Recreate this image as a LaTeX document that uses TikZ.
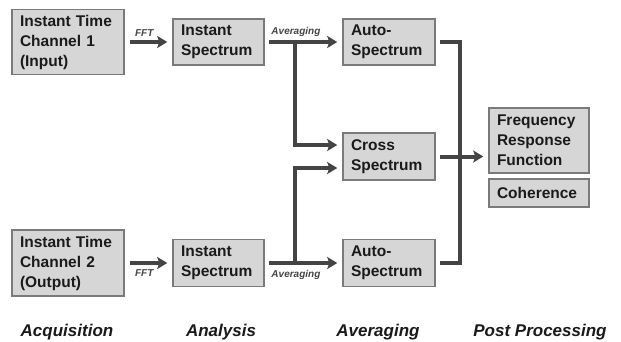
\documentclass[tikz,border=0pt]{standalone}
\usepackage{fontspec}
\setmainfont{Liberation Sans}
\usetikzlibrary{arrows.meta}
\definecolor{boxfill}{HTML}{D6D6D6}
\definecolor{boxline}{HTML}{7A7A7A}
\definecolor{wire}{HTML}{444444}
\definecolor{ink}{HTML}{1A1A1A}
\begin{document}
\begin{tikzpicture}
  [x=1pt,y=-1pt,
   blk/.style={draw=boxline,fill=boxfill,line width=1.5pt,align=left,inner sep=0pt,
     inner xsep=8pt,text=ink,font=\fontsize{15.5}{20}\selectfont\bfseries},
   wireln/.style={draw=wire,line width=4pt},
   arr/.style={wireln,-{Stealth[length=10pt,width=12pt,inset=2pt]},shorten >=5pt},
   tag/.style={text=wire,font=\fontsize{10}{12}\selectfont\bfseries\itshape,inner sep=1pt},
   stage/.style={text=ink,font=\fontsize{17}{20}\selectfont\bfseries\itshape}]
  \useasboundingbox (0,0) rectangle (621,341);
  \node[blk,text width=96pt,minimum height=65pt] (ch1) at (68,42) {Instant Time\\Channel 1\\(Input)};
  \node[blk,text width=96pt,minimum height=66pt] (ch2) at (68,263) {Instant Time\\Channel 2\\(Output)};
  \node[blk,text width=75pt,minimum height=46pt] (is1) at (218.5,42) {Instant\\Spectrum};
  \node[blk,text width=75pt,minimum height=47pt] (is2) at (218.5,263) {Instant\\Spectrum};
  \node[blk,text width=76pt,minimum height=46pt] (as1) at (389,42) {Auto-\\Spectrum};
  \node[blk,text width=76pt,minimum height=47pt] (cs) at (389,156.5) {Cross\\Spectrum};
  \node[blk,text width=76pt,minimum height=47pt] (as2) at (389,263) {Auto-\\Spectrum};
  \node[blk,text width=84pt,minimum height=65pt] (frf) at (539,140.5) {Frequency\\Response\\Function};
  \node[blk,text width=84pt,minimum height=28pt] (coh) at (539,193) {Coherence};
  \coordinate (bus) at (460,156.5);

  \node[stage] (acq) at (67,332) {Acquisition};
  \node[stage] (ana) at (221,332) {Analysis};
  \node[stage] (avg) at (378,332) {Averaging};
  \node[stage] (post) at (540,332) {Post Processing};

  \draw[arr] ([xshift=5pt]ch1.east) -- node[tag,above,pos=0.34,yshift=3pt] {FFT} (ch1.east -| is1.west);
  \draw[arr] ([xshift=5pt]ch2.east) -- node[tag,below,pos=0.34,yshift=-4pt] {FFT} (ch2.east -| is2.west);
  \draw[arr] ([xshift=4pt]is1.east) -- node[tag,above,pos=0.37,yshift=2pt] {Averaging} (as1.west);
  \draw[arr] ([xshift=4pt]is2.east) -- node[tag,below,pos=0.37,yshift=-4pt] {Averaging} (as2.west);
  \draw[arr] ([xshift=30pt]is1.east) |- ([yshift=11.5pt]cs.west);
  \draw[arr] ([xshift=30pt]is2.east) |- ([yshift=-11.5pt]cs.west);
  \draw[wireln] ([xshift=4pt]as1.east) -| (bus) |- ([xshift=4pt]as2.east);
  \draw[arr] ([xshift=4pt]cs.east) -- (cs.east -| frf.west);
\end{tikzpicture}
\end{document}
